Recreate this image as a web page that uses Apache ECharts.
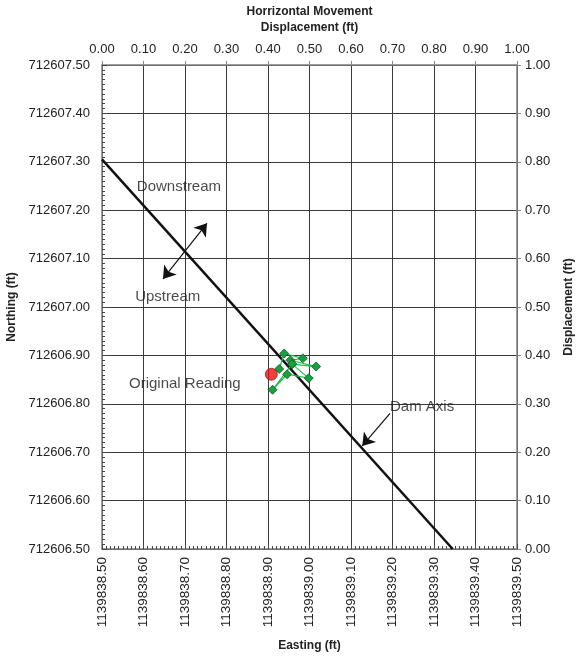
<!DOCTYPE html>
<html>
<head>
<meta charset="utf-8">
<script src="https://cdn.jsdelivr.net/npm/echarts@6/dist/echarts.min.js"></script>
<style>html,body{margin:0;padding:0;background:#fff}#c{width:578px;height:658px}</style>
</head>
<body>
<div id="c"></div>
<script>
// Axis ranges
const eastingRange = [1139838.5, 1139839.5];
const northingRange = [712606.5, 712607.5];
const displacementRange = [0, 1];

// Dam axis line (Easting, Northing)
const damAxisE = [1139838.50, 1139839.345];
const damAxisN = [712607.305, 712606.50];

// Original reading
const originalE = [1139838.908];
const originalN = [712606.861];

// Subsequent readings (Easting, Northing)
const readingsE = [1139838.927, 1139838.939, 1139838.984, 1139838.954, 1139839.016, 1139838.958, 1139838.998, 1139838.946, 1139838.911, 1139838.958];
const readingsN = [712606.872, 712606.904, 712606.894, 712606.890, 712606.877, 712606.882, 712606.853, 712606.861, 712606.829, 712606.882];

// Arrows
const flowArrowE = [1139838.647, 1139838.753];
const flowArrowN = [712607.058, 712607.173];
const damArrowE = [1139839.194, 1139839.127];
const damArrowN = [712606.780, 712606.713];

// Annotations
const noteTexts = ['Downstream', 'Upstream', 'Original Reading', 'Dam Axis'];
const noteE = [1139838.584, 1139838.580, 1139838.565, 1139839.194];
const noteN = [712607.248, 712607.021, 712606.841, 712606.793];

const FONT = 'Liberation Sans, Arial, sans-serif';
const chart = echarts.init(document.getElementById('c'), null, {renderer: 'canvas'});

const zip = (a, b) => a.map((v, i) => [v, b[i]]);
const fmt2 = v => Number(v).toFixed(2);

const axisLine = {show: true, lineStyle: {color: '#808080', width: 1.5}};
const splitLine = {show: true, lineStyle: {color: '#3a3a3a', width: 1}};
const labelStyle = {color: '#222', fontFamily: FONT, fontSize: 13};
const nameStyle = {color: '#222', fontFamily: FONT, fontSize: 12, fontWeight: 'bold'};

chart.setOption({
  animation: false,
  backgroundColor: '#fff',
  grid: {left: 102, right: 61, top: 65, bottom: 109, containLabel: false, outerBoundsMode: 'none'},
  xAxis: [
    {
      type: 'value', position: 'bottom', min: eastingRange[0], max: eastingRange[1], interval: 0.1,
      name: 'Easting (ft)', nameLocation: 'middle', nameGap: 91, nameTextStyle: nameStyle,
      axisLine: axisLine,
      axisTick: {show: true, inside: true, length: 5, lineStyle: {color: '#444'}},
      minorTick: {show: true, splitNumber: 10, length: 3, lineStyle: {color: '#444'}},
      axisLabel: Object.assign({rotate: 90, formatter: fmt2, margin: 8}, labelStyle, {fontSize: 13.5}),
      splitLine: splitLine
    },
    {
      type: 'value', position: 'top', min: displacementRange[0], max: displacementRange[1], interval: 0.1,
      name: 'Horrizontal Movement\nDisplacement (ft)', nameLocation: 'middle', nameGap: 29,
      nameTextStyle: Object.assign({lineHeight: 16}, nameStyle),
      axisLine: axisLine,
      axisTick: {show: true, length: 4, lineStyle: {color: '#888'}},
      axisLabel: Object.assign({formatter: fmt2, margin: 9}, labelStyle),
      splitLine: {show: false}
    }
  ],
  yAxis: [
    {
      type: 'value', position: 'left', min: northingRange[0], max: northingRange[1], interval: 0.1,
      name: 'Northing (ft)', nameLocation: 'middle', nameGap: 81, nameRotate: 90, nameTextStyle: nameStyle,
      axisLine: axisLine,
      axisTick: {show: true, inside: true, length: 5, lineStyle: {color: '#444'}},
      minorTick: {show: true, splitNumber: 10, length: 3, lineStyle: {color: '#444'}},
      axisLabel: Object.assign({formatter: fmt2, margin: 12}, labelStyle),
      splitLine: splitLine
    },
    {
      type: 'value', position: 'right', min: displacementRange[0], max: displacementRange[1], interval: 0.1,
      name: 'Displacement (ft)', nameLocation: 'middle', nameGap: 46, nameRotate: 90, nameTextStyle: nameStyle,
      axisLine: axisLine,
      axisTick: {show: true, length: 4, lineStyle: {color: '#888'}},
      axisLabel: Object.assign({formatter: fmt2, margin: 8}, labelStyle),
      splitLine: {show: false}
    }
  ],
  series: [
    {
      type: 'line', xAxisIndex: 0, yAxisIndex: 0, data: zip(damAxisE, damAxisN),
      showSymbol: false, symbol: 'none', lineStyle: {color: '#111', width: 2.5}, z: 3, silent: true
    },
    {
      type: 'line', xAxisIndex: 0, yAxisIndex: 0, data: zip(readingsE, readingsN),
      symbol: 'diamond', symbolSize: 9, showAllSymbol: true,
      lineStyle: {color: '#1fbf4a', width: 1.2},
      itemStyle: {color: '#18a040', borderColor: '#0b5a22', borderWidth: 0.8}, z: 4
    },
    {
      type: 'scatter', xAxisIndex: 0, yAxisIndex: 0, data: zip(originalE, originalN),
      symbol: 'circle', symbolSize: 12,
      itemStyle: {color: '#ee1010', borderColor: '#7a0a0a', borderWidth: 0.8}, z: 5
    },
    {
      type: 'lines', coordinateSystem: 'cartesian2d', xAxisIndex: 0, yAxisIndex: 0,
      symbol: ['arrow', 'arrow'], symbolSize: 12,
      lineStyle: {color: '#111', width: 1.2, opacity: 1, curveness: 0},
      data: [{coords: zip(flowArrowE, flowArrowN)}], z: 6
    },
    {
      type: 'lines', coordinateSystem: 'cartesian2d', xAxisIndex: 0, yAxisIndex: 0,
      symbol: ['none', 'arrow'], symbolSize: 12,
      lineStyle: {color: '#111', width: 1.2, opacity: 1, curveness: 0},
      data: [{coords: zip(damArrowE, damArrowN)}], z: 6
    },
    {
      type: 'scatter', xAxisIndex: 0, yAxisIndex: 0, symbolSize: 0,
      data: noteTexts.map((t, i) => ({name: t, value: [noteE[i], noteN[i]]})),
      label: {show: true, position: 'right', distance: 0, formatter: p => p.name,
        color: '#1a1a1a', fontFamily: FONT, fontSize: 15},
      z: 7, silent: true
    }
  ]
});
</script>
</body>
</html>
